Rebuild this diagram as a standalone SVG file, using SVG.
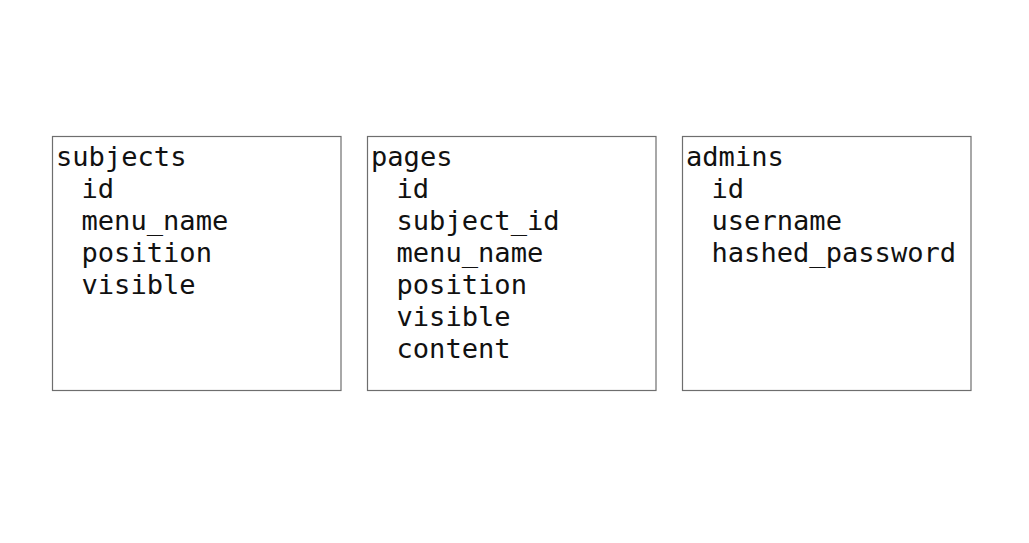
<svg xmlns="http://www.w3.org/2000/svg" width="1029" height="543" viewBox="0 0 1029 543">
<style>
.box{fill:#fff;stroke:#6e6e6e;stroke-width:1.2}
text{font-family:"DejaVu Sans Mono","Liberation Mono",monospace;font-size:27.1px;fill:#111}
</style>
<rect width="1029" height="543" fill="#fff"/>
<g id="subjects">
<rect class="box" x="52.5" y="136.5" width="288.5" height="254"/>
<text x="56" y="166">subjects</text>
<text x="81.5" y="198">id</text>
<text x="81.5" y="230">menu_name</text>
<text x="81.5" y="262">position</text>
<text x="81.5" y="294">visible</text>
</g>
<g id="pages">
<rect class="box" x="367.5" y="136.5" width="288.5" height="254"/>
<text x="371" y="166">pages</text>
<text x="396.5" y="198">id</text>
<text x="396.5" y="230">subject_id</text>
<text x="396.5" y="262">menu_name</text>
<text x="396.5" y="294">position</text>
<text x="396.5" y="326">visible</text>
<text x="396.5" y="358">content</text>
</g>
<g id="admins">
<rect class="box" x="682.5" y="136.5" width="288.5" height="254"/>
<text x="686" y="166">admins</text>
<text x="711.5" y="198">id</text>
<text x="711.5" y="230">username</text>
<text x="711.5" y="262">hashed_password</text>
</g>
<g id="connectors"></g>
</svg>
